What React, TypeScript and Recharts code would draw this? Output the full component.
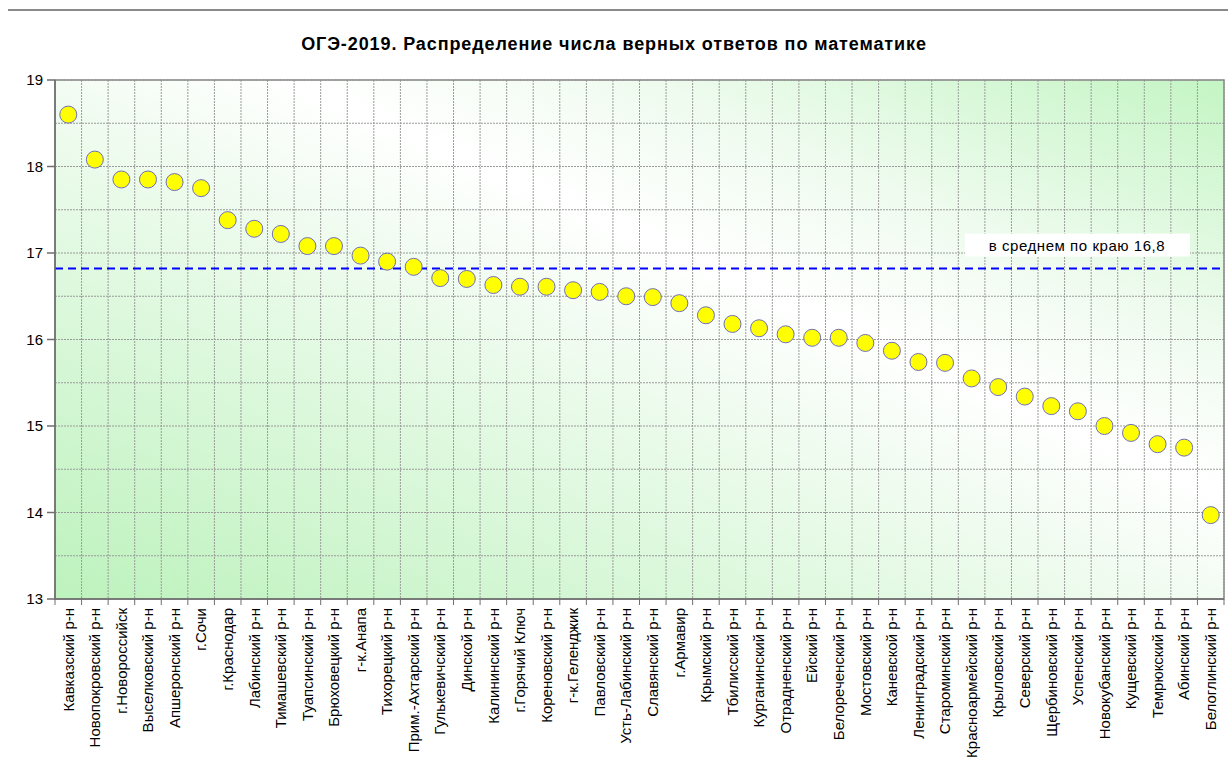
import React from "react";
import {
  ScatterChart,
  Scatter,
  XAxis,
  YAxis,
  CartesianGrid,
  ReferenceLine,
  ReferenceArea,
} from "recharts";

const districts = [
  "Кавказский р-н",
  "Новопокровский р-н",
  "г.Новороссийск",
  "Выселковский р-н",
  "Апшеронский р-н",
  "г.Сочи",
  "г.Краснодар",
  "Лабинский р-н",
  "Тимашевский р-н",
  "Туапсинский р-н",
  "Брюховецкий р-н",
  "г-к.Анапа",
  "Тихорецкий р-н",
  "Прим.-Ахтарский р-н",
  "Гулькевичский р-н",
  "Динской р-н",
  "Калининский р-н",
  "г.Горячий Ключ",
  "Кореновский р-н",
  "г-к.Геленджик",
  "Павловский р-н",
  "Усть-Лабинский р-н",
  "Славянский р-н",
  "г.Армавир",
  "Крымский р-н",
  "Тбилисский р-н",
  "Курганинский р-н",
  "Отрадненский р-н",
  "Ейский р-н",
  "Белореченский р-н",
  "Мостовский р-н",
  "Каневской р-н",
  "Ленинградский р-н",
  "Староминский р-н",
  "Красноармейский р-н",
  "Крыловский р-н",
  "Северский р-н",
  "Щербиновский р-н",
  "Успенский р-н",
  "Новокубанский р-н",
  "Кущевский р-н",
  "Темрюкский р-н",
  "Абинский р-н",
  "Белоглинский р-н",
];

const correctAnswers = [
  18.6, 18.08, 17.85, 17.85, 17.82, 17.75, 17.38, 17.28, 17.22, 17.08, 17.08,
  16.97, 16.9, 16.84, 16.71, 16.7, 16.63, 16.61, 16.61, 16.57, 16.55, 16.5,
  16.49, 16.42, 16.28, 16.18, 16.13, 16.06, 16.02, 16.02, 15.96, 15.87, 15.74,
  15.73, 15.55, 15.45, 15.34, 15.23, 15.17, 15.0, 14.92, 14.79, 14.75, 13.97,
];

const regionAverage = 16.82;
const averageLabel = "в среднем по краю 16,8";
const yTicks = [13, 13.5, 14, 14.5, 15, 15.5, 16, 16.5, 17, 17.5, 18, 18.5, 19];

const FONT = "Arial, 'Liberation Sans', sans-serif";
const CHART_W = 1228;
const CHART_H = 766;
const MARGIN = { top: 80, right: 4, left: 8, bottom: 7 };
const Y_AXIS_W = 47;
const PLOT_W = CHART_W - MARGIN.left - MARGIN.right - Y_AXIS_W;
const HALF_BAND = PLOT_W / districts.length / 2;

const xTicks = districts.map((_, i) => i).concat([districts.length]);
const data = districts.map((name, i) => ({
  name,
  x: i + 0.5,
  y: correctAnswers[i],
}));

const XTick = (props: any) => {
  const { x, y, payload } = props;
  const name = districts[payload.value];
  if (!name) return null;
  const tx = x + HALF_BAND;
  const ty = y + 1;
  return (
    <text
      x={tx}
      y={ty}
      dy="0.35em"
      transform={`rotate(-90, ${tx}, ${ty})`}
      textAnchor="end"
      fontFamily={FONT}
      fontSize={15}
      fill="#000"
    >
      {name}
    </text>
  );
};

const YTick = (props: any) => {
  const { x, y, payload } = props;
  if (!Number.isInteger(payload.value)) return null;
  return (
    <g>
      <line x1={x + 4} x2={x + 12} y1={y} y2={y} stroke="#6e6e6e" strokeWidth={1.5} />
      <text
        x={x}
        y={y}
        dy="0.36em"
        textAnchor="end"
        fontFamily={FONT}
        fontSize={15}
        fill="#000"
      >
        {payload.value}
      </text>
    </g>
  );
};

const AverageLabel = (props: any) => {
  const { viewBox } = props;
  const right = viewBox.x + viewBox.width - 34;
  const left = right - 225;
  return (
    <g>
      <rect x={left} y={viewBox.y - 35} width={225} height={23} fill="#ffffff" />
      <text
        x={left + 112}
        y={viewBox.y - 23}
        dy="0.35em"
        textAnchor="middle"
        fontFamily={FONT}
        fontSize={15}
        letterSpacing={0.55}
        fill="#000"
      >
        {averageLabel}
      </text>
    </g>
  );
};

const Dot = (props: any) => (
  <circle
    cx={props.cx}
    cy={props.cy}
    r={8.5}
    fill="#ffff00"
    stroke="#6f6fb8"
    strokeWidth={1}
  />
);

export default function App() {
  return (
    <div
      style={{
        position: "absolute",
        left: 0,
        top: 0,
        width: CHART_W,
        height: CHART_H,
        background: "#fff",
        fontFamily: FONT,
      }}
    >
      <div
        style={{
          position: "absolute",
          left: 8,
          top: 9,
          width: CHART_W - 8,
          borderTop: "2px solid #8a8a8a",
        }}
      />
      <div
        style={{
          position: "absolute",
          left: 0,
          top: 35,
          width: CHART_W,
          textAlign: "center",
          fontSize: 18,
          fontWeight: "bold",
          letterSpacing: 0.9,
          lineHeight: 1,
          color: "#000",
        }}
      >
        ОГЭ-2019. Распределение числа верных ответов по математике
      </div>
      <ScatterChart width={CHART_W} height={CHART_H} margin={MARGIN}>
        <defs>
          <linearGradient id="plotBg" x1="0" y1="1" x2="1" y2="0">
            <stop offset="0" stopColor="#bdf2bd" />
            <stop offset="0.35" stopColor="#e2f9e2" />
            <stop offset="0.5" stopColor="#f3fcf3" />
            <stop offset="0.6" stopColor="#ffffff" />
            <stop offset="0.75" stopColor="#effbef" />
            <stop offset="1" stopColor="#c4f5c4" />
          </linearGradient>
        </defs>
        <CartesianGrid
          fill="url(#plotBg)"
          stroke="#9a9a9a"
          strokeDasharray="2 1"
        />
        <ReferenceArea
          x1={0}
          x2={districts.length}
          y1={13}
          y2={19}
          fill="none"
          stroke="#8c8c8c"
          strokeWidth={1.5}
          ifOverflow="visible"
        />
        <XAxis
          type="number"
          dataKey="x"
          domain={[0, districts.length]}
          ticks={xTicks}
          interval={0}
          height={160}
          tick={<XTick />}
          tickSize={6}
          tickLine={{ stroke: "#6e6e6e" }}
          axisLine={{ stroke: "#6e6e6e", strokeWidth: 1.5 }}
        />
        <YAxis
          type="number"
          dataKey="y"
          domain={[13, 19]}
          ticks={yTicks}
          interval={0}
          width={Y_AXIS_W}
          tickSize={8}
          tickMargin={4}
          tickLine={false}
          tick={<YTick />}
          axisLine={{ stroke: "#6e6e6e", strokeWidth: 1.5 }}
        />
        <ReferenceLine
          y={regionAverage}
          stroke="#0000ff"
          strokeWidth={2}
          strokeDasharray="8 5"
          label={<AverageLabel />}
        />
        <Scatter data={data} shape={<Dot />} isAnimationActive={false} />
      </ScatterChart>
    </div>
  );
}
